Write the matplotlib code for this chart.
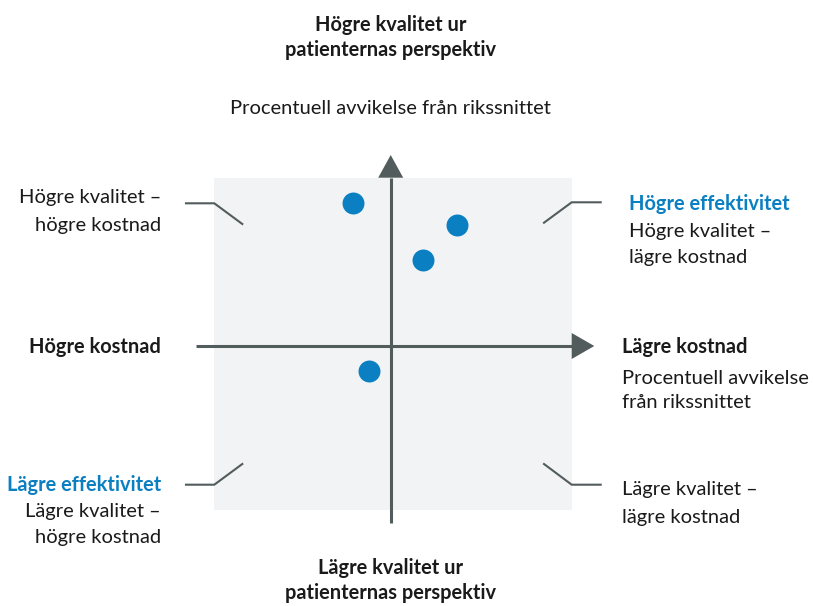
import matplotlib.pyplot as plt
from matplotlib.patches import Rectangle, Polygon

plt.rcParams['font.family'] = ['Lato', 'DejaVu Sans']

# percent deviation from national average (cost inverted: right = lower cost)
cost_dev = [-21, 37, 18, -12]
quality_dev = [86, 73, 52, -15]

BLUE = '#0a7fc1'
AXIS = '#535c5c'
GRAY_BG = '#f2f3f5'
TXT = '#1a1a1a'
FS = 14.5
FS_BOLD = 14.4

W, H = 813, 606
fig = plt.figure(figsize=(W / 100, H / 100), dpi=100)

# full-figure overlay in pixel coords for decoration and text
bg = fig.add_axes([0, 0, 1, 1])
bg.set_xlim(0, W)
bg.set_ylim(H, 0)
bg.axis('off')

sq_l, sq_r, sq_t, sq_b = 214.3, 571.7, 177.7, 510.0
cx, cy = 390.7, 346.0
bg.add_patch(Rectangle((sq_l, sq_t), sq_r - sq_l, sq_b - sq_t, color=GRAY_BG, lw=0))

# axes with arrow heads
bg.plot([cx, cx], [523, sq_t], color=AXIS, lw=2.2, solid_capstyle='butt')
bg.add_patch(Polygon([(cx, 155), (cx - 12.5, sq_t), (cx + 12.5, sq_t)], color=AXIS, lw=0))
bg.plot([196, sq_r], [cy, cy], color=AXIS, lw=2.2, solid_capstyle='butt')
bg.add_patch(Polygon([(594.3, cy), (sq_r, cy - 13), (sq_r, cy + 13)], color=AXIS, lw=0))

# leader lines at the corners
lw_lead = 1.5
bg.plot([186, sq_l, 242.3], [203.3, 203.3, 224], color=AXIS, lw=lw_lead)
bg.plot([544, sq_r, 600.7], [222.7, 202.3, 202.3], color=AXIS, lw=lw_lead)
bg.plot([186, sq_l, 242.3], [484.7, 484.7, 464], color=AXIS, lw=lw_lead)
bg.plot([544, sq_r, 600.7], [464, 484.7, 484.7], color=AXIS, lw=lw_lead)


def label(x, y, s, ha='left', bold=False, color=TXT):
    bg.text(x, y, s, ha=ha, va='center', fontsize=FS_BOLD if bold else FS,
            color=color, fontweight='bold' if bold else 'normal')


# top / bottom
label(cx, 25, 'Högre kvalitet ur', ha='center', bold=True)
label(cx, 50, 'patienternas perspektiv', ha='center', bold=True)
label(cx, 108, 'Procentuell avvikelse från rikssnittet', ha='center')
label(cx, 568, 'Lägre kvalitet ur', ha='center', bold=True)
label(cx, 593, 'patienternas perspektiv', ha='center', bold=True)

# left side
label(161, 198, 'Högre kvalitet –', ha='right')
label(161, 226, 'högre kostnad', ha='right')
label(161, 347, 'Högre kostnad', ha='right', bold=True)
label(161, 485, 'Lägre effektivitet', ha='right', bold=True, color=BLUE)
label(161, 512, 'Lägre kvalitet –', ha='right')
label(161, 538, 'högre kostnad', ha='right')

# right side
label(629, 204, 'Högre effektivitet', bold=True, color=BLUE)
label(629, 232, 'Högre kvalitet –')
label(629, 258, 'lägre kostnad')
label(622, 347, 'Lägre kostnad', bold=True)
label(622, 378, 'Procentuell avvikelse')
label(622, 402, 'från rikssnittet')
label(622, 489, 'Lägre kvalitet –')
label(622, 518, 'lägre kostnad')

# data axes placed exactly over the grey square
ax = fig.add_axes([sq_l / W, 1 - sq_b / H, (sq_r - sq_l) / W, (sq_b - sq_t) / H])
ax.patch.set_alpha(0)
ax.axis('off')
ax.set_xlim(-98.7, 101.3)
ax.set_ylim(-98.7, 101.3)
ax.scatter(cost_dev, quality_dev, s=250, color=BLUE, lw=0, zorder=3)

fig.savefig('out.png', dpi=100)
